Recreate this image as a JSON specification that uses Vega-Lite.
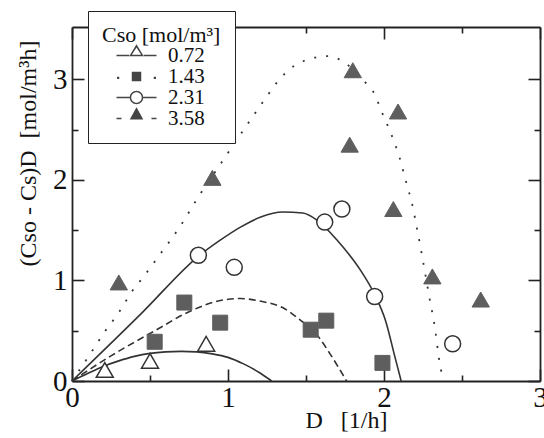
{
  "$schema": "https://vega.github.io/schema/vega-lite/v6.json",
  "width": 468,
  "height": 354,
  "autosize": {"type": "none"},
  "padding": {"left": 72, "top": 27, "right": 4, "bottom": 57},
  "background": "white",
  "config": {
    "view": {"stroke": null},
    "font": "Liberation Serif",
    "axis": {
      "domainColor": "#222",
      "domainWidth": 1.8,
      "tickColor": "#222",
      "tickWidth": 1.6,
      "grid": false,
      "labelFont": "Liberation Serif",
      "labelColor": "#111",
      "titleFont": "Liberation Serif",
      "titleColor": "#111",
      "titleFontWeight": "normal"
    }
  },
  "datasets": {
    "curves": [
      {"series": "0.72", "D": 0, "v": 0},
      {"series": "0.72", "D": 0.1, "v": 0.075},
      {"series": "0.72", "D": 0.2, "v": 0.145},
      {"series": "0.72", "D": 0.3, "v": 0.2},
      {"series": "0.72", "D": 0.4, "v": 0.245},
      {"series": "0.72", "D": 0.5, "v": 0.275},
      {"series": "0.72", "D": 0.6, "v": 0.29},
      {"series": "0.72", "D": 0.7, "v": 0.295},
      {"series": "0.72", "D": 0.8, "v": 0.29},
      {"series": "0.72", "D": 0.9, "v": 0.27},
      {"series": "0.72", "D": 1.0, "v": 0.235},
      {"series": "0.72", "D": 1.1, "v": 0.17},
      {"series": "0.72", "D": 1.2, "v": 0.085},
      {"series": "0.72", "D": 1.28, "v": 0},
      {"series": "1.43", "D": 0, "v": 0},
      {"series": "1.43", "D": 0.25, "v": 0.25},
      {"series": "1.43", "D": 0.52, "v": 0.49},
      {"series": "1.43", "D": 0.78, "v": 0.71},
      {"series": "1.43", "D": 0.95, "v": 0.8},
      {"series": "1.43", "D": 1.08, "v": 0.82},
      {"series": "1.43", "D": 1.22, "v": 0.79},
      {"series": "1.43", "D": 1.35, "v": 0.73},
      {"series": "1.43", "D": 1.46, "v": 0.61},
      {"series": "1.43", "D": 1.57, "v": 0.46},
      {"series": "1.43", "D": 1.65, "v": 0.28},
      {"series": "1.43", "D": 1.76, "v": 0},
      {"series": "2.31", "D": 0, "v": 0},
      {"series": "2.31", "D": 0.45, "v": 0.68},
      {"series": "2.31", "D": 0.81, "v": 1.24},
      {"series": "2.31", "D": 0.95, "v": 1.4},
      {"series": "2.31", "D": 1.08, "v": 1.53},
      {"series": "2.31", "D": 1.21, "v": 1.63},
      {"series": "2.31", "D": 1.35, "v": 1.68},
      {"series": "2.31", "D": 1.48, "v": 1.67},
      {"series": "2.31", "D": 1.57, "v": 1.6},
      {"series": "2.31", "D": 1.7, "v": 1.4},
      {"series": "2.31", "D": 1.78, "v": 1.25},
      {"series": "2.31", "D": 1.85, "v": 1.1},
      {"series": "2.31", "D": 1.94, "v": 0.86},
      {"series": "2.31", "D": 2.01, "v": 0.6},
      {"series": "2.31", "D": 2.07, "v": 0.24},
      {"series": "2.31", "D": 2.11, "v": 0},
      {"series": "3.58", "D": 0, "v": 0},
      {"series": "3.58", "D": 0.13, "v": 0.3},
      {"series": "3.58", "D": 0.21, "v": 0.49},
      {"series": "3.58", "D": 0.3, "v": 0.68},
      {"series": "3.58", "D": 0.38, "v": 0.88},
      {"series": "3.58", "D": 0.47, "v": 1.06},
      {"series": "3.58", "D": 0.56, "v": 1.25},
      {"series": "3.58", "D": 0.69, "v": 1.53},
      {"series": "3.58", "D": 0.81, "v": 1.83},
      {"series": "3.58", "D": 0.94, "v": 2.13},
      {"series": "3.58", "D": 1.15, "v": 2.61},
      {"series": "3.58", "D": 1.24, "v": 2.81},
      {"series": "3.58", "D": 1.33, "v": 3.0},
      {"series": "3.58", "D": 1.43, "v": 3.14},
      {"series": "3.58", "D": 1.5, "v": 3.19},
      {"series": "3.58", "D": 1.57, "v": 3.22},
      {"series": "3.58", "D": 1.64, "v": 3.23},
      {"series": "3.58", "D": 1.71, "v": 3.2},
      {"series": "3.58", "D": 1.88, "v": 2.97},
      {"series": "3.58", "D": 1.93, "v": 2.88},
      {"series": "3.58", "D": 1.99, "v": 2.66},
      {"series": "3.58", "D": 2.05, "v": 2.44},
      {"series": "3.58", "D": 2.1, "v": 2.22},
      {"series": "3.58", "D": 2.14, "v": 1.99},
      {"series": "3.58", "D": 2.18, "v": 1.76},
      {"series": "3.58", "D": 2.21, "v": 1.53},
      {"series": "3.58", "D": 2.24, "v": 1.28},
      {"series": "3.58", "D": 2.29, "v": 0.84},
      {"series": "3.58", "D": 2.33, "v": 0.49},
      {"series": "3.58", "D": 2.35, "v": 0.25},
      {"series": "3.58", "D": 2.38, "v": 0}
    ],
    "points": [
      {"series": "0.72", "D": 0.21, "v": 0.11},
      {"series": "0.72", "D": 0.5, "v": 0.2},
      {"series": "0.72", "D": 0.86, "v": 0.37},
      {"series": "1.43", "D": 0.53, "v": 0.39},
      {"series": "1.43", "D": 0.72, "v": 0.78},
      {"series": "1.43", "D": 0.95, "v": 0.58},
      {"series": "1.43", "D": 1.53, "v": 0.51},
      {"series": "1.43", "D": 1.63, "v": 0.6},
      {"series": "1.43", "D": 1.99, "v": 0.18},
      {"series": "2.31", "D": 0.81, "v": 1.25},
      {"series": "2.31", "D": 1.04, "v": 1.13},
      {"series": "2.31", "D": 1.62, "v": 1.58},
      {"series": "2.31", "D": 1.73, "v": 1.71},
      {"series": "2.31", "D": 1.94, "v": 0.84},
      {"series": "2.31", "D": 2.44, "v": 0.37},
      {"series": "3.58", "D": 0.3, "v": 0.98},
      {"series": "3.58", "D": 0.9, "v": 2.02},
      {"series": "3.58", "D": 1.78, "v": 2.35},
      {"series": "3.58", "D": 1.8, "v": 3.09},
      {"series": "3.58", "D": 2.06, "v": 1.71},
      {"series": "3.58", "D": 2.09, "v": 2.68},
      {"series": "3.58", "D": 2.31, "v": 1.04},
      {"series": "3.58", "D": 2.62, "v": 0.81}
    ]
  },
  "resolve": {"axis": {"x": "independent", "y": "independent"}},
  "layer": [
    {
      "data": {"name": "curves"},
      "transform": [{"filter": "datum.series === '0.72' || datum.series === '2.31'"}],
      "mark": {"type": "line", "interpolate": "monotone", "color": "#333", "strokeWidth": 1.6},
      "encoding": {
        "x": {
          "field": "D", "type": "quantitative",
          "scale": {"domain": [0, 3], "nice": false, "zero": false},
          "axis": {
            "orient": "bottom",
            "values": [0, 0.5, 1, 1.5, 2, 2.5, 3],
            "labelExpr": "datum.value % 1 === 0 ? format(datum.value, 'd') : ''",
            "tickSize": {"condition": {"test": "datum.value % 1 === 0", "value": -12}, "value": -6},
            "labelPadding": 14,
            "labelFlush": false,
            "labelOverlap": false,
            "labelFontSize": 29,
            "title": "D\u00a0\u00a0\u00a0[1/h]",
            "titleFontSize": 24,
            "titleX": 274,
            "titleY": 46,
            "titleAlign": "center",
            "titleBaseline": "alphabetic"
          }
        },
        "y": {
          "field": "v", "type": "quantitative",
          "scale": {"domain": [0, 3.52], "nice": false},
          "axis": {
            "orient": "left",
            "values": [0, 0.5, 1, 1.5, 2, 2.5, 3],
            "labelExpr": "datum.value % 1 === 0 ? format(datum.value, 'd') : ''",
            "tickSize": {"condition": {"test": "datum.value % 1 === 0", "value": -12}, "value": -6},
            "labelPadding": 17,
            "labelFlush": false,
            "labelOverlap": false,
            "labelFontSize": 29,
            "title": "(Cso - Cs)D\u00a0\u00a0[mol/m³h]",
            "titleFontSize": 24,
            "titleAngle": 270,
            "titleX": -37,
            "titleY": 126,
            "titleAlign": "center",
            "titleBaseline": "alphabetic"
          }
        },
        "detail": {"field": "series", "type": "nominal"}
      }
    },
    {
      "data": {"name": "curves"},
      "transform": [{"filter": "datum.series === '1.43'"}],
      "mark": {"type": "line", "interpolate": "monotone", "color": "#333", "strokeWidth": 1.6, "strokeDash": [7, 4]},
      "encoding": {
        "x": {"field": "D", "type": "quantitative", "axis": null},
        "y": {"field": "v", "type": "quantitative", "axis": null}
      }
    },
    {
      "data": {"name": "curves"},
      "transform": [{"filter": "datum.series === '3.58'"}],
      "mark": {"type": "line", "interpolate": "monotone", "color": "#333", "strokeWidth": 1.8, "strokeDash": [2, 10]},
      "encoding": {
        "x": {"field": "D", "type": "quantitative", "axis": null},
        "y": {"field": "v", "type": "quantitative", "axis": null}
      }
    },
    {
      "data": {"name": "points"},
      "transform": [{"filter": "datum.series === '0.72'"}],
      "mark": {"type": "point", "shape": "triangle-up", "filled": false, "fill": "white", "stroke": "#333", "strokeWidth": 1.5, "size": 289, "opacity": 1},
      "encoding": {
        "x": {
          "field": "D", "type": "quantitative",
          "axis": {
            "orient": "top",
            "values": [0, 0.5, 1, 1.5, 2, 2.5, 3],
            "labels": false,
            "tickSize": {"condition": {"test": "datum.value % 1 === 0", "value": -12}, "value": -6},
            "title": null
          }
        },
        "y": {
          "field": "v", "type": "quantitative",
          "axis": {
            "orient": "right",
            "values": [0, 0.5, 1, 1.5, 2, 2.5, 3],
            "labels": false,
            "tickSize": {"condition": {"test": "datum.value % 1 === 0", "value": -12}, "value": -6},
            "title": null
          }
        }
      }
    },
    {
      "data": {"name": "points"},
      "transform": [{"filter": "datum.series === '1.43'"}],
      "mark": {"type": "point", "shape": "square", "filled": true, "fill": "#5e5e5e", "stroke": "#5e5e5e", "strokeWidth": 1, "size": 225, "opacity": 1},
      "encoding": {
        "x": {"field": "D", "type": "quantitative", "axis": null},
        "y": {"field": "v", "type": "quantitative", "axis": null}
      }
    },
    {
      "data": {"name": "points"},
      "transform": [{"filter": "datum.series === '2.31'"}],
      "mark": {"type": "point", "shape": "circle", "filled": false, "fill": "white", "stroke": "#333", "strokeWidth": 1.5, "size": 256, "opacity": 1},
      "encoding": {
        "x": {"field": "D", "type": "quantitative", "axis": null},
        "y": {"field": "v", "type": "quantitative", "axis": null}
      }
    },
    {
      "data": {"name": "points"},
      "transform": [{"filter": "datum.series === '3.58'"}],
      "mark": {"type": "point", "shape": "triangle-up", "filled": true, "fill": "#5e5e5e", "stroke": "#5e5e5e", "strokeWidth": 1, "size": 300, "opacity": 1},
      "encoding": {
        "x": {"field": "D", "type": "quantitative", "axis": null},
        "y": {"field": "v", "type": "quantitative", "axis": null}
      }
    },
    {
      "data": {"name": "points"},
      "transform": [{"filter": "datum.D < 0"}],
      "mark": {"type": "point", "filled": true, "color": "#444", "size": 100, "opacity": 1, "strokeWidth": 0},
      "encoding": {
        "x": {"field": "D", "type": "quantitative", "axis": null},
        "y": {"field": "v", "type": "quantitative", "axis": null},
        "shape": {
          "field": "series", "type": "nominal",
          "scale": {
            "domain": ["0.72", "1.43", "2.31", "3.58"],
            "range": [
              "M-6,0L-6,0ZM-4,-0.15H-1.45V0.15H-4ZM1.45,-0.15H4V0.15H1.45ZM0,-2.25L1.45,0.15L-1.45,0.15ZM0,-1.6L-0.93,-0.15L0.93,-0.15Z",
              "M-6,0L-6,0ZM-3.9,0.05h0.45v0.45h-0.45ZM3.45,0.05h0.45v0.45h-0.45ZM-0.95,-0.95h1.9v1.9h-1.9Z",
              "M-6,0L-6,0ZM-4,-0.15H-1.35V0.15H-4ZM1.35,-0.15H4V0.15H1.35ZM1.35,0A1.35,1.35 0 1,1 -1.35,0A1.35,1.35 0 1,1 1.35,0ZM1.05,0A1.05,1.05 0 1,0 -1.05,0A1.05,1.05 0 1,0 1.05,0Z",
              "M-6,0L-6,0ZM-4,-0.15H-3V0.15H-4ZM3,-0.15H4V0.15H3ZM0,-2.25L1.35,0.2L-1.35,0.2Z"
            ]
          },
          "legend": {
            "title": "Cso [mol/m³]",
            "orient": "none",
            "legendX": 16,
            "legendY": -16,
            "direction": "vertical",
            "padding": 14,
            "strokeColor": "#222",
            "fillColor": "white",
            "titleFont": "Liberation Serif",
            "titleFontSize": 22,
            "titleFontWeight": "normal",
            "titleColor": "#111",
            "titlePadding": -2,
            "labelFont": "Liberation Serif",
            "labelFontSize": 21,
            "labelColor": "#111",
            "symbolSize": 100,
            "symbolFillColor": "#444",
            "symbolStrokeWidth": 0,
            "symbolOpacity": 1,
            "symbolOffset": 24,
            "labelOffset": 21,
            "rowPadding": -1
          }
        }
      }
    }
  ]
}
